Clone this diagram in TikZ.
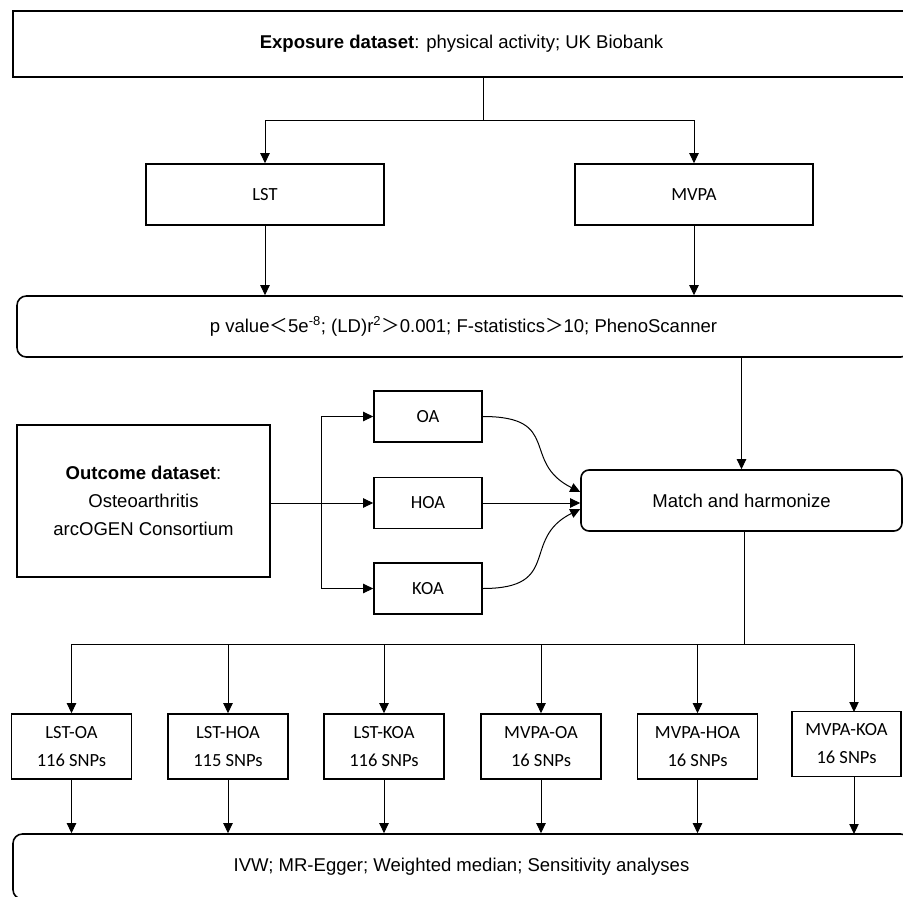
\documentclass[tikz,border=0pt]{standalone}
\usepackage{fontspec}
\setmainfont{Liberation Sans}
\newfontfamily\calfont{Carlito}
\newfontfamily\cjk{Noto Sans CJK SC}
\usetikzlibrary{arrows.meta, positioning, calc}

\begin{document}
\begin{tikzpicture}[
        x=0.75pt, y=-0.75pt,
        every node/.style={font=\fontsize{13.9}{21}\selectfont},
        block/.style={rectangle, draw, line width=1.2pt, inner sep=0pt, align=center, minimum width=90pt, minimum height=48.75pt},
        round/.style={block, rounded corners=7pt},
        small/.style={block, font=\calfont\fontsize{13.9}{21}\selectfont},
        line/.style={draw, line width=0.75pt, -{Triangle[length=7.5pt,width=7pt]}}
    ]
        \useasboundingbox (0,0) rectangle (903,896);

        \node [block, minimum width=672.75pt, minimum height=49.5pt] (expo) at (461.5,44) {\textbf{Exposure dataset}: physical activity; UK Biobank};
        \node [small, minimum width=178.5pt, minimum height=45.75pt] (lst) at (265,194.5) {LST};
        \node [small, minimum width=178.5pt, minimum height=45.75pt] (mvpa) at (694,194.5) {MVPA};
        \node [round, minimum width=669.75pt, minimum height=45.75pt] (filter) at (463.5,326.5) {p value{\cjk ＜}5e\textsuperscript{-8}; (LD)r\textsuperscript{2}{\cjk ＞}0.001; F-statistics{\cjk ＞}10; PhenoScanner};

        \node [block, minimum width=189.75pt, minimum height=114pt] (outcome) at (143.5,501) {\textbf{Outcome dataset}:\\Osteoarthritis\\arcOGEN Consortium};
        \node [small, minimum width=81pt, minimum height=38.25pt] (oa) at (428,416.5) {OA};
        \node [small, minimum width=81pt, minimum height=38.25pt] (hoa) at (428,503) {HOA};
        \node [small, minimum width=81pt, minimum height=38.25pt] (koa) at (428,588.5) {KOA};
        \node [round, rounded corners=6pt, minimum width=240.75pt, minimum height=45.75pt] (match) at (741.5,500.5) {Match and harmonize};

        \node [small] (lstoa) at (71.5,746.5) {LST-OA\\116 SNPs};
        \node [small] (lsthoa) at (228,746.5) {LST-HOA\\115 SNPs};
        \node [small] (lstkoa) at (384,746.5) {LST-KOA\\116 SNPs};
        \node [small] (mvpaoa) at (541,746.5) {MVPA-OA\\16 SNPs};
        \node [small] (mvpahoa) at (697.5,746.5) {MVPA-HOA\\16 SNPs};
        \node [small, minimum width=81.75pt] (mvpakoa) at (846.5,744) {MVPA-KOA\\16 SNPs};
        \node [round, minimum width=672.75pt, minimum height=48.75pt] (methods) at (461.5,866.5) {IVW; MR-Egger; Weighted median; Sensitivity analyses};

        % exposure branches
        \coordinate (split1) at (483,120);
        \draw [line width=0.75pt] (split1 |- expo.south) -- (split1);
        \path [line] (split1) -| (lst);
        \path [line] (split1) -| (mvpa);
        \path [line] (lst) -- (lst |- filter.north);
        \path [line] (mvpa) -- (mvpa |- filter.north);
        \path [line] (match |- filter.south) -- (match);

        % outcome branches
        \coordinate (split2) at (321,503);
        \draw [line width=0.75pt] (outcome.east |- hoa) -- (split2);
        \path [line] (split2) |- (oa);
        \path [line] (split2) -- (hoa);
        \path [line] (split2) |- (koa);
        \path [line] (oa.east) .. controls +(80,0) and +(-60,-30) .. ([yshift=6.4pt]match.west);
        \path [line] (hoa.east) -- (hoa -| match.west);
        \path [line] (koa.east) .. controls +(80,0) and +(-60,30) .. ([yshift=-6.4pt]match.west);

        % pairs
        \coordinate (split3) at (744,644);
        \draw [line width=0.75pt] (match.south -| split3) -- (split3);
        \draw [line width=0.75pt] (lstoa |- split3) -- (854,644);
        \foreach \n in {lstoa, lsthoa, lstkoa, mvpaoa, mvpahoa} {
            \path [line] (\n |- split3) -- (\n);
            \path [line] (\n) -- (\n |- methods.north);
        }
        \path [line] (854,644) -- (854,712);
        \path [line] (854,776) -- (854,834);
    \end{tikzpicture}
\end{document}
